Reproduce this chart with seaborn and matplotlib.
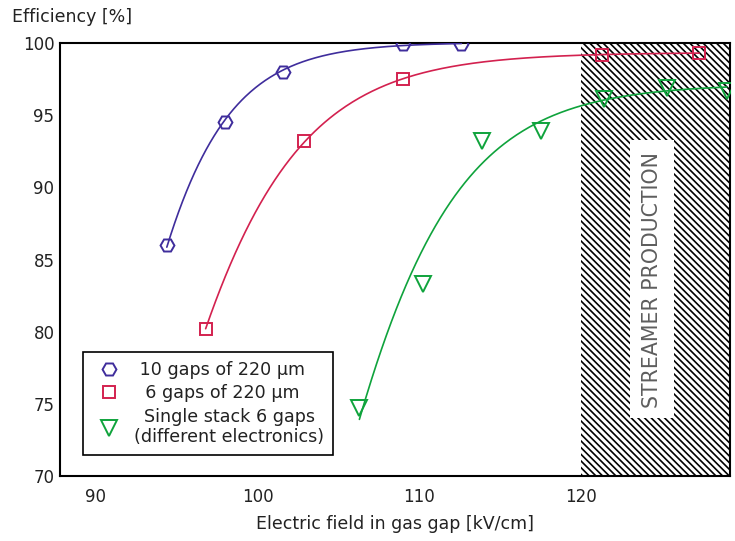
import numpy as np
import matplotlib
matplotlib.use("Agg")
import matplotlib.pyplot as plt
import seaborn as sns
from matplotlib.patches import Rectangle

# ---- data ----
x_10gaps = [94.4, 98.0, 101.6, 109.0, 112.6]
y_10gaps = [86.0, 94.5, 98.0, 99.9, 99.9]

x_6gaps = [96.8, 102.9, 109.0, 121.3, 127.3]
y_6gaps = [80.2, 93.2, 97.5, 99.2, 99.3]

x_single = [106.3, 110.2, 113.9, 117.5, 121.4, 125.3, 129.0]
y_single = [74.7, 83.3, 93.2, 93.9, 96.1, 96.9, 96.7]

labels = [" 10 gaps of 220 \u00b5m", "  6 gaps of 220 \u00b5m",
          "Single stack 6 gaps\n(different electronics)"]
colors = ["#3f2d9c", "#d3214f", "#0fa33c"]
markers = ["H", "s", "v"]
marker_sizes = [10, 8.5, 12]

xticks_major = [90, 100, 110, 120]
xticks_minor = [95, 105, 115, 125]
yticks = [70, 75, 80, 85, 90, 95, 100]
streamer_start = 120
xlim = (87.8, 129.2)
ylim = (70, 100)


def sigmoid_fit(x, y):
    """Binomially weighted least-squares fit of E = Emax / (1 + exp(-(x - x50)/w))."""
    x = np.asarray(x, float)
    y = np.asarray(y, float)
    wt = 1.0 / (y * (100.0 - y) + 1.0)
    x50 = np.linspace(80, 112, 641)[:, None, None]
    w = np.linspace(0.8, 8.0, 361)[None, :, None]
    f = 1.0 / (1.0 + np.exp(-(x[None, None, :] - x50) / w))
    emax = (wt * y * f).sum(-1) / (wt * f * f).sum(-1)
    loss = (wt * (y - emax[..., None] * f) ** 2).sum(-1)
    i, j = np.unravel_index(np.argmin(loss), loss.shape)
    bx, bw, be = x50[i, 0, 0], w[0, j, 0], emax[i, j]
    xs = np.linspace(x.min(), x.max(), 300)
    return xs, be / (1.0 + np.exp(-(xs - bx) / bw))


sns.set_style("white")
plt.rcParams["font.family"] = ["DejaVu Sans"]
plt.rcParams["hatch.linewidth"] = 1.2

fig = plt.figure(figsize=(7.35, 5.41), dpi=100)
ax = fig.add_axes([60 / 735, 65 / 541, 670 / 735, 433 / 541])

# streamer region
ax.axvspan(streamer_start, xlim[1], facecolor="white", edgecolor="black",
           hatch="\\\\\\\\\\", linewidth=0, zorder=0)
ax.add_patch(Rectangle((123.0, 74.0), 2.75, 19.3, facecolor="white",
                       edgecolor="none", zorder=1))
ax.text(124.4, 83.6, "STREAMER PRODUCTION", rotation=90, ha="center",
        va="center", fontsize=14.8, color="#5e5e5e", zorder=2)

series = [(x_10gaps, y_10gaps), (x_6gaps, y_6gaps), (x_single, y_single)]
handles = []
for (xs, ys), c, m, ms, lab in zip(series, colors, markers, marker_sizes, labels):
    fx, fy = sigmoid_fit(xs, ys)
    sns.lineplot(x=fx, y=fy, color=c, lw=1.2, ax=ax, zorder=3, sort=False,
                 estimator=None)
    sns.lineplot(x=xs, y=ys, ax=ax, marker=m, linestyle="", color=c,
                 markersize=ms, markerfacecolor="none", markeredgecolor=c,
                 markeredgewidth=1.4, zorder=4, estimator=None)
    handles.append(ax.lines[-1])

ax.set_xlim(*xlim)
ax.set_ylim(*ylim)
ax.set_xticks(xticks_major)
ax.set_xticks(xticks_minor, minor=True)
ax.set_yticks(yticks)
ax.tick_params(axis="both", which="both", direction="in", length=9,
               width=1.3, color="black", labelsize=12, labelcolor="#222222")
ax.tick_params(axis="x", pad=9)
ax.tick_params(axis="y", pad=4)
for s in ax.spines.values():
    s.set_visible(True)
    s.set_color("black")
    s.set_linewidth(1.5)

ax.set_xlabel("Electric field in gas gap [kV/cm]", fontsize=12.5,
              color="#222222", labelpad=6)
ax.set_ylabel("")
fig.text(12 / 735, 1 - 17 / 541, "Efficiency [%]", ha="left", va="center",
         fontsize=12.5, color="#222222")

leg = ax.legend(handles, labels, loc="lower left",
                bbox_to_anchor=(0.034, 0.048), fontsize=12.6, frameon=True,
                fancybox=False, edgecolor="black", framealpha=1,
                handlelength=2.0, handletextpad=0.45, borderpad=0.5,
                labelspacing=0.3, borderaxespad=0)
leg.get_frame().set_linewidth(1.2)
for t in leg.get_texts():
    t.set_multialignment("center")
    t.set_color("#222222")
leg.set_zorder(5)

fig.savefig("out.png", dpi=100)
